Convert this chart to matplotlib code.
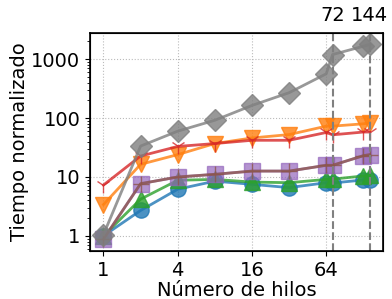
import matplotlib
matplotlib.use("Agg")
import matplotlib.pyplot as plt
from matplotlib.ticker import FixedLocator, NullLocator, FixedFormatter

threads = [1, 2, 4, 8, 16, 32, 64, 72, 128, 144]
blue = [1.0, 2.7, 6.2, 8.5, 7.5, 6.6, 8.0, 7.9, 8.9, 9.0]
orange = [3.4, 16.4, 24, 37, 46, 52.5, 73, 73, 80, 83]
green = [1.0, 4.2, 8.8, 9.1, 8.2, 8.0, 9.1, 9.2, 10.4, 10.6]
red = [7.3, 22.7, 33, 37, 42, 42, 57, 52, 58, 58]
purple = [0.88, 7.7, 10, 11.1, 12.6, 12.6, 15.8, 15.8, 23, 24]
gray = [1.05, 33.5, 60, 92, 164, 270, 565, 1200, 1660, 1780]

xticks = [1, 4, 16, 64]
xticklabels = ["1", "4", "16", "64"]
top_ticks = [72, 144]
top_labels = ["72", "144"]
yticks = [1, 10, 100, 1000]
yticklabels = ["1", "10", "100", "1000"]

fig, ax = plt.subplots(figsize=(3.92, 2.99), dpi=100)
fig.subplots_adjust(left=0.23, right=0.977, bottom=0.16, top=0.89)

ms = 11
ax.plot(threads, blue, '-o', color='C0', lw=2, ms=ms, alpha=0.8)
ax.plot(threads, orange, '-v', color='C1', lw=2, ms=ms, alpha=0.8)
ax.plot(threads, green, '-^', color='C2', lw=2, ms=ms, alpha=0.8)
ax.plot(threads, red, '-1', color='C3', lw=2, ms=ms, alpha=0.8)
ax.plot(threads, purple, '-s', color='C4', lw=2, ms=ms, alpha=0.7)
ax.plot(threads, purple, '-+', color='C5', lw=2, ms=ms, alpha=0.8)
ax.plot(threads, gray, '-D', color='C7', lw=2, ms=ms, alpha=0.8)

for t in top_ticks:
    ax.axvline(t, color='gray', ls='--', lw=1.5)

ax.set_xscale('log', base=2)
ax.set_yscale('log')
ax.xaxis.set_major_locator(FixedLocator(xticks))
ax.xaxis.set_major_formatter(FixedFormatter(xticklabels))
ax.xaxis.set_minor_locator(NullLocator())
ax.yaxis.set_major_locator(FixedLocator(yticks))
ax.yaxis.set_major_formatter(FixedFormatter(yticklabels))
ax.set_ylim(0.55, 2800)
ax.tick_params(labelsize=14)
ax.grid(True, ls=':', color='#bbbbbb')
ax.set_xlabel("Número de hilos", fontsize=14, labelpad=1)
ax.set_ylabel("Tiempo normalizado", fontsize=14, labelpad=2)
for s in ax.spines.values():
    s.set_linewidth(1.2)

ax2 = ax.twiny()
ax2.set_xscale('log', base=2)
ax2.set_xlim(ax.get_xlim())
ax2.xaxis.set_major_locator(FixedLocator(top_ticks))
ax2.xaxis.set_major_formatter(FixedFormatter(top_labels))
ax2.xaxis.set_minor_locator(NullLocator())
ax2.tick_params(labelsize=14, length=0, pad=6)

fig.savefig("out.png", dpi=100)
